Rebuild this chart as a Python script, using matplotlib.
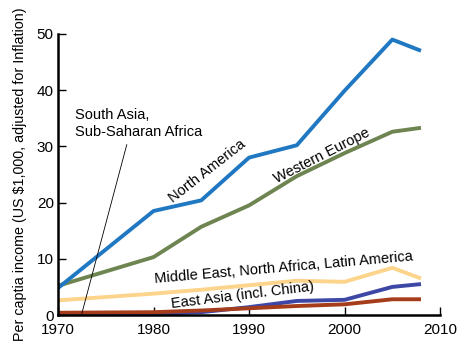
import matplotlib.pyplot as plt

plt.rcParams["font.family"] = ["Liberation Sans", "DejaVu Sans"]

years = [1970, 1980, 1985, 1990, 1995, 2000, 2005, 2008]
north_america = [4.8, 18.5, 20.4, 28.0, 30.2, 39.9, 49.0, 47.0]
western_europe = [5.2, 10.3, 15.7, 19.5, 24.7, 28.8, 32.6, 33.3]
middle_east = [2.6, 3.8, 4.5, 5.3, 6.1, 5.9, 8.4, 6.5]
east_asia = [0.1, 0.2, 0.5, 1.4, 2.5, 2.7, 5.0, 5.5]
south_asia = [0.4, 0.5, 0.8, 1.2, 1.6, 1.9, 2.8, 2.8]

fig = plt.figure(figsize=(4.77, 3.47), dpi=100)
ax = fig.add_axes([0.1216, 0.0922, 0.801, 0.81])

lw = 2.8
ax.plot(years, middle_east, color="#fdd48c", lw=lw, solid_capstyle="butt")
ax.plot(years, east_asia, color="#3d47a5", lw=lw, solid_capstyle="butt")
ax.plot(years, south_asia, color="#a53c1a", lw=lw, solid_capstyle="butt")
ax.plot(years, western_europe, color="#6e8451", lw=lw, solid_capstyle="butt")
ax.plot(years, north_america, color="#1f78c1", lw=lw, solid_capstyle="butt")

# annotation leader line for South Asia
ax.plot([1972.5, 1977.2], [0.3, 30.3], color="black", lw=0.6)

fs = 10.5
ax.text(1971.8, 31.3, "South Asia,\nSub-Saharan Africa", fontsize=fs, va="bottom", linespacing=1.25)
ax.text(1985.6, 25.6, "North America", fontsize=fs, rotation=38, ha="center", va="center")
ax.text(1997.6, 28.3, "Western Europe", fontsize=fs, rotation=27, ha="center", va="center")
ax.text(1993.6, 8.4, "Middle East, North Africa, Latin America", fontsize=fs, rotation=5,
        ha="center", va="center")
ax.text(1989.3, 3.5, "East Asia (incl. China)", fontsize=fs, rotation=7, ha="center", va="center")

ax.set_xlim(1970, 2010)
ax.set_ylim(0, 50)
ax.set_xticks([1970, 1980, 1990, 2000, 2010])
ax.set_yticks([0, 10, 20, 30, 40, 50])
ax.tick_params(direction="in", length=6, width=1, labelsize=11)
ax.tick_params(axis="y", pad=3)
ax.tick_params(axis="x", pad=6)
for s in ["top", "right"]:
    ax.spines[s].set_visible(False)
for s in ["left", "bottom"]:
    ax.spines[s].set_linewidth(1.8)

ax.set_ylabel("Per captia income (US $1,000, adjusted for Inflation)", fontsize=10.3, labelpad=7)

fig.savefig("out.png", dpi=100)
